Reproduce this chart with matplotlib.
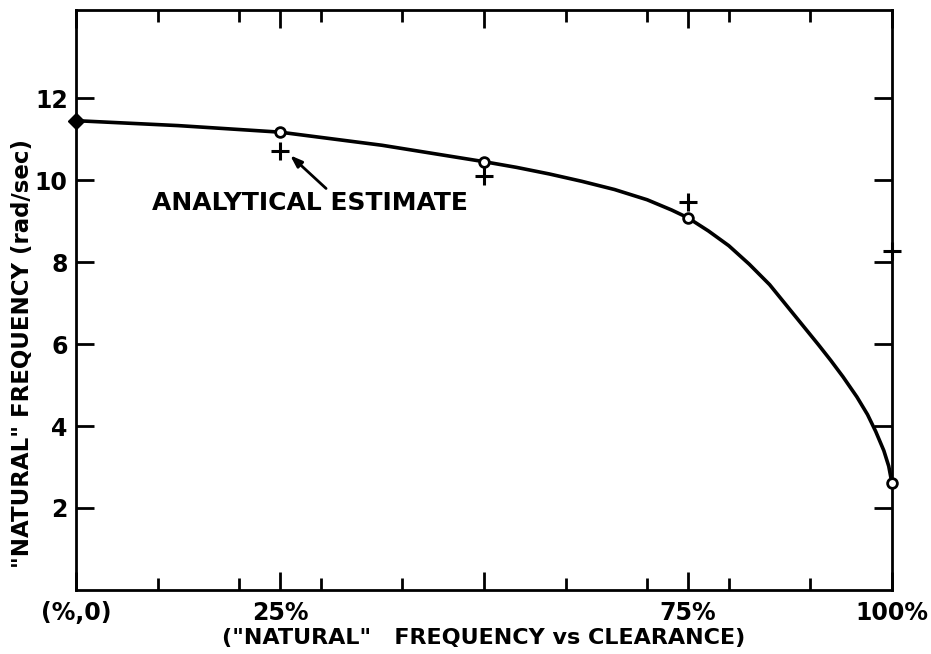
import numpy as np
import matplotlib
matplotlib.use("Agg")
from matplotlib import pyplot as plt

# values (clearance in %, frequency in rad/sec)
clearance = [25, 50, 75, 100]
measured = [11.17, 10.45, 9.08, 2.6]
analytical = [10.72, 10.09, 9.46, 8.28]
zero_clear = [0]
zero_freq = [11.45]

# hand-drawn faired curve
curve_x = [0, 12.5, 25, 37.5, 50, 54, 58, 62, 66, 70, 73, 75, 77.5, 80, 82.5,
           85, 87, 89, 91, 92.5, 94, 95.7, 97, 98, 99, 99.6, 100]
curve_y = [11.45, 11.33, 11.17, 10.85, 10.45, 10.31, 10.15, 9.97, 9.77, 9.52,
           9.27, 9.08, 8.76, 8.40, 7.95, 7.45, 6.96, 6.47, 5.98, 5.60, 5.20,
           4.71, 4.28, 3.87, 3.40, 3.02, 2.6]

xtick_pos = [0, 25, 50, 75, 100]
xtick_lab = ['(%,0)', '25%', '', '75%', '100%']
xminor = [10, 20, 30, 40, 60, 70, 80, 90]
ytick_pos = [2, 4, 6, 8, 10, 12]

plt.rcParams['font.family'] = 'DejaVu Sans'
plt.rcParams['font.weight'] = 'bold'

fig = plt.figure(figsize=(9.31, 6.54), dpi=100)
ax = fig.add_axes([0.0816, 0.0979, 0.8765, 0.8868])

ax.plot(curve_x, curve_y, color='black', lw=2.6, zorder=2,
        solid_joinstyle='round')
ax.plot(zero_clear, zero_freq, marker='D', color='black', ms=8, ls='none',
        clip_on=False, zorder=4)
ax.plot(clearance, measured, marker='o', ms=7, mfc='white', mec='black',
        mew=2, ls='none', clip_on=False, zorder=4)
ax.plot(clearance, analytical, marker='+', ms=13, mew=2.2, color='black',
        ls='none', clip_on=False, zorder=3)

ax.text(9.3, 9.43, 'ANALYTICAL ESTIMATE', fontsize=18, fontweight='bold',
        ha='left', va='center')
ax.annotate('', xy=(26.0, 10.65), xytext=(30.9, 9.75),
            arrowprops=dict(arrowstyle='-|>,head_length=0.7,head_width=0.25',
                            color='black', lw=2))

ax.set_xlim(0, 100)
ax.set_ylim(0, 14.15)

ax.set_xticks(xtick_pos)
ax.set_xticklabels(xtick_lab)
ax.set_xticks(xminor, minor=True)
ax.set_yticks(ytick_pos)

ax.tick_params(axis='both', which='major', direction='in', length=13, width=2,
               labelsize=17, top=True, right=True, color='black')
ax.tick_params(axis='x', which='major', pad=8)
ax.tick_params(axis='y', which='major', pad=6)
ax.tick_params(axis='x', which='minor', direction='in', length=8.5, width=2,
               top=True)

for s in ax.spines.values():
    s.set_linewidth(2)

ax.set_xlabel('("NATURAL"   FREQUENCY vs CLEARANCE)', fontsize=16,
              fontweight='bold', labelpad=2)
fig.text(0.024, 0.46, '"NATURAL" FREQUENCY (rad/sec)', rotation=90,
         fontsize=16.5, fontweight='bold', ha='center', va='center')

fig.savefig('out.png', dpi=100)
